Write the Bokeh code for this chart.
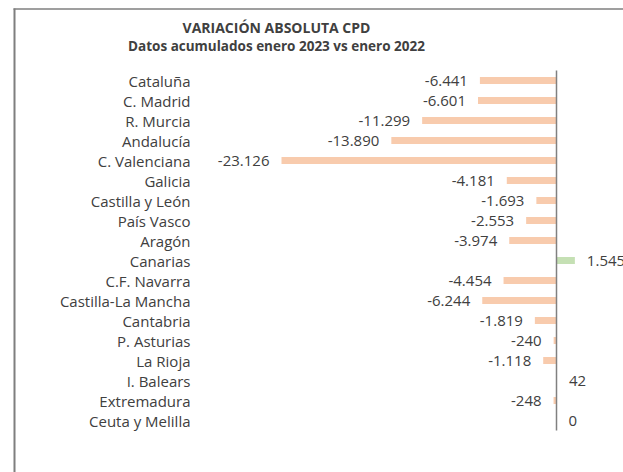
from bokeh.plotting import figure
from bokeh.models import Range1d
from bokeh.embed import file_html
from bokeh.resources import INLINE
from bokeh.core.properties import value

# ---- data ----
categories = ["Cataluña", "C. Madrid", "R. Murcia", "Andalucía", "C. Valenciana",
              "Galicia", "Castilla y León", "País Vasco", "Aragón", "Canarias",
              "C.F. Navarra", "Castilla-La Mancha", "Cantabria", "P. Asturias",
              "La Rioja", "I. Balears", "Extremadura", "Ceuta y Melilla"]
values = [-6441, -6601, -11299, -13890, -23126, -4181, -1693, -2553, -3974, 1545,
          -4454, -6244, -1819, -240, -1118, 42, -248, 0]
title = "VARIACIÓN ABSOLUTA CPD"
subtitle = "Datos acumulados enero 2023 vs enero 2022"

# ---- layout (pixels) ----
W, H = 623, 472
zero_px = 556.0          # canvas x of zero line
px_per_unit = 275.0 / 23126.0
row0_px, row_step = 80.0, 20.0

x_start = -zero_px / px_per_unit
x_end = (W - zero_px) / px_per_unit
y_end = -row0_px / row_step
y_start = (H - row0_px) / row_step

def px_x(px):
    return x_start + px / px_per_unit

def px_y(py):
    return y_end + py / row_step

FONT = value("Open Sans")
TXT = "#404040"
LBL_SIZE = "15px"

p = figure(width=W, height=H, output_backend="svg", toolbar_location=None,
           x_range=Range1d(x_start, x_end), y_range=Range1d(y_start, y_end),
           min_border=0, min_border_left=0, min_border_right=0,
           min_border_top=0, min_border_bottom=0)
p.axis.visible = False
p.grid.visible = False
p.outline_line_color = None
p.background_fill_color = "white"
p.border_fill_color = "white"

ys = list(range(len(categories)))
lefts = [min(v, 0) for v in values]
rights = [max(v, 0) for v in values]
colors = ["#C5E0B4" if v > 0 else "#F8CBAD" for v in values]
p.hbar(y=ys, left=lefts, right=rights, height=0.35, fill_color=colors, line_color=None)

# zero axis line
p.segment(x0=[0], y0=[-0.5], x1=[0], y1=[len(categories) - 0.5],
          line_color="#808080", line_width=1.5)

# category labels
p.text(x=[px_x(190)] * len(categories), y=ys, text=categories,
       text_align="right", text_baseline="middle", text_font=FONT,
       text_font_size=LBL_SIZE, text_color=TXT)

def fmt(v):
    return f"{v:,}".replace(",", ".")

neg_i = [i for i, v in enumerate(values) if v < 0]
pos_i = [i for i, v in enumerate(values) if v >= 0]
p.text(x=[values[i] for i in neg_i], y=[ys[i] for i in neg_i],
       text=[fmt(values[i]) for i in neg_i], x_offset=-12,
       text_align="right", text_baseline="middle", text_font=FONT,
       text_font_size=LBL_SIZE, text_color=TXT)
p.text(x=[values[i] for i in pos_i], y=[ys[i] for i in pos_i],
       text=[fmt(values[i]) for i in pos_i], x_offset=12,
       text_align="left", text_baseline="middle", text_font=FONT,
       text_font_size=LBL_SIZE, text_color=TXT)

# titles
p.text(x=[px_x(276)], y=[px_y(27)], text=[title], text_align="center",
       text_baseline="middle", text_font=FONT, text_font_style="bold",
       text_font_size="14px", text_color=TXT)
p.text(x=[px_x(276)], y=[px_y(45)], text=[subtitle], text_align="center",
       text_baseline="middle", text_font=FONT, text_font_style="bold",
       text_font_size="13.5px", text_color=TXT)

# chart frame (left and top edges)
p.segment(x0=[px_x(14)], y0=[px_y(8)], x1=[px_x(14)], y1=[px_y(H)],
          line_color="#7f7f7f", line_width=2)
p.segment(x0=[px_x(13)], y0=[px_y(8.5)], x1=[px_x(W)], y1=[px_y(8.5)],
          line_color="#7f7f7f", line_width=1.5)

open("out.html", "w").write(file_html(p, INLINE))
